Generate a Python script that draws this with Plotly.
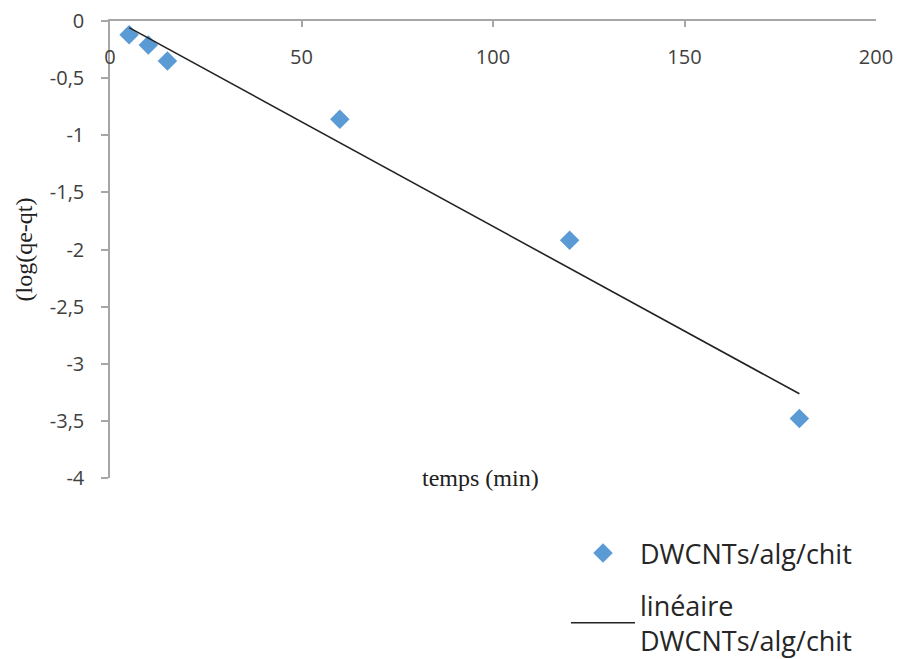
import numpy as np
import plotly.graph_objects as go

# Data
temps = [5, 10, 15, 60, 120, 180]
log_qe_qt = [-0.12, -0.21, -0.35, -0.86, -1.92, -3.48]

x_tickvals = [0, 50, 100, 150, 200]
x_ticktext = ["0", "50", "100", "150", "200"]
y_tickvals = [0, -0.5, -1, -1.5, -2, -2.5, -3, -3.5, -4]
y_ticktext = ["0", "-0,5", "-1", "-1,5", "-2", "-2,5", "-3", "-3,5", "-4"]

# Linear trendline (least squares) over the data span
slope, intercept = np.polyfit(temps, log_qe_qt, 1)
fit_x = [temps[0], temps[-1]]
fit_y = [slope * v + intercept for v in fit_x]

W, H = 900, 659
ml, mr, mt, mb = 110, 24, 21, 181
pw = W - ml - mr
ph = H - mt - mb


def px_to_paper_y(p):
    return 1 - (p - mt) / ph


def px_to_paper_x(p):
    return (p - ml) / pw


fig = go.Figure()
fig.add_trace(go.Scatter(
    x=temps, y=log_qe_qt, mode="markers", name="DWCNTs/alg/chit",
    legendgroup="a",
    marker=dict(symbol="diamond", size=15, color="#5B9BD5"),
))
fig.add_trace(go.Scatter(
    x=fit_x, y=fit_y, mode="lines", name="linéaire<br>DWCNTs/alg/chit",
    legendgroup="b",
    line=dict(color="#222222", width=1.6),
))
# invisible trace carrying the x tick labels below the top axis line
fig.add_trace(go.Scatter(x=[0, 200], y=[0, 0], xaxis="x2", mode="markers",
                         marker=dict(opacity=0), showlegend=False, hoverinfo="skip"))

tick_font = dict(family="Open Sans, sans-serif", size=20, color="#404040")
serif = "Liberation Serif, DejaVu Serif, serif"

iw = 64
fig.update_layout(
    width=W, height=H,
    margin=dict(l=ml, r=mr, t=mt, b=mb, autoexpand=False),
    paper_bgcolor="white", plot_bgcolor="white",
    separators=", ",
    showlegend=True,
    legend=dict(
        x=px_to_paper_x(566), y=px_to_paper_y(665), xanchor="left", yanchor="bottom",
        font=dict(family="Open Sans, sans-serif", size=27, color="#262626"),
        bgcolor="rgba(0,0,0,0)", itemwidth=iw, tracegroupgap=14,
        traceorder="grouped",
    ),
    xaxis=dict(
        range=[0, 200], side="top", tickvals=x_tickvals,
        showticklabels=False,
        showline=True, linecolor="#A6A6A6", linewidth=1.5,
        ticks="inside", ticklen=6, tickcolor="#A6A6A6", tickwidth=1.5,
        showgrid=False, zeroline=False,
    ),
    xaxis2=dict(
        range=[0, 200], overlaying="x", side="bottom", anchor="free",
        position=px_to_paper_y(43),
        tickvals=x_tickvals, ticktext=x_ticktext, tickfont=tick_font,
        showline=False, ticks="", showgrid=False, zeroline=False,
    ),
    yaxis=dict(
        range=[-4, 0], tickvals=y_tickvals, ticktext=y_ticktext,
        showline=True, linecolor="#A6A6A6", linewidth=1.5,
        ticks="outside", ticklen=7, tickcolor="#A6A6A6", tickwidth=1.5,
        ticklabelstandoff=13,
        showgrid=False, zeroline=False, tickfont=tick_font,
        title=dict(text="(log(qe-qt)", font=dict(family=serif, size=24, color="#202020"), standoff=10),
    ),
)

fig.add_annotation(
    x=px_to_paper_x(480), y=-4, xref="paper", yref="y",
    text="temps (min)", showarrow=False, yanchor="middle",
    font=dict(family=serif, size=24, color="#202020"),
)

fig.write_html("out.html")
